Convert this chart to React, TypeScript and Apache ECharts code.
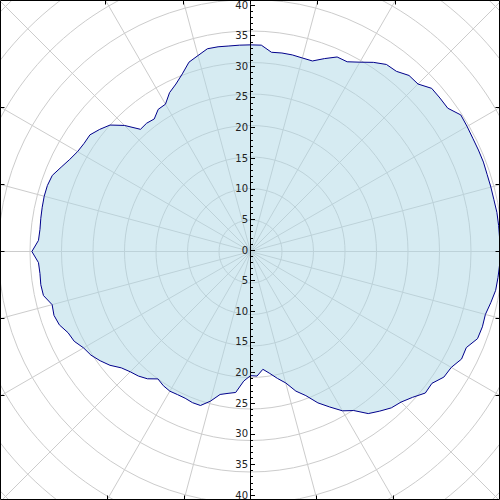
import React, { useEffect, useRef } from "react";
import * as echarts from "echarts";

// Angles (degrees, counter-clockwise from east) and radii of the filled polar outline
const ANGLES = [
  0, 3, 6, 9, 12, 15, 18, 21, 24, 27, 30, 33, 36, 39, 42, 45, 48, 51, 54, 57,
  60, 63, 66, 69, 72, 75, 78, 81, 84, 87, 90, 93, 96, 99, 102, 105, 108, 111, 114, 117,
  120, 123, 126, 129, 132, 135, 138, 141, 144, 147, 150, 153, 156, 159, 162, 165, 168, 171, 174, 177,
  180, 183, 186, 189, 192, 195, 198, 201, 204, 207, 210, 213, 216, 219, 222, 225, 228, 231, 234, 237,
  240, 243, 246, 249, 252, 255, 258, 261, 264, 267, 270, 270, 270, 273, 276, 279, 282, 285, 288, 291,
  294, 297, 300, 303, 306, 309, 312, 315, 318, 321, 324, 327, 330, 333, 336, 339, 342, 345, 348, 351,
  354, 357, 360,
];
const RADII = [
  39.6, 39.6, 39.6, 39.6, 39.5, 39.5, 39.5, 39.6, 39.6, 39.6, 39.7, 39.8, 38.7, 38.7, 38.7, 37.6, 37.6, 36.8, 36.7, 35.8,
  34.7, 33.8, 33.8, 32.8, 31.8, 31.8, 31.9, 31.9, 31.8, 32.8, 32.8, 32.8, 32.8, 32.9, 32.9, 32.2, 31.6, 30.2, 29.1, 28.3,
  27.0, 26.9, 26.0, 26.2, 26.1, 28.3, 30.0, 30.8, 31.5, 31.5, 31.7, 32.2, 32.9, 33.7, 33.9, 33.9, 33.8, 33.7, 33.6, 33.7,
  34.7, 33.7, 33.6, 33.7, 33.6, 32.6, 32.8, 32.5, 31.7, 31.4, 30.6, 30.2, 29.5, 28.7, 27.6, 27.0, 26.6, 26.0, 25.0, 25.4,
  25.6, 25.5, 25.5, 25.7, 25.7, 24.6, 23.2, 22.8, 22.5, 20.6, 19.7, 35.0, 19.7, 19.8, 18.8, 19.6, 20.6, 21.6, 23.3, 24.5,
  26.3, 27.7, 29.2, 30.1, 31.8, 32.6, 33.4, 33.8, 34.6, 35.7, 35.6, 36.6, 36.8, 37.6, 37.5, 38.6, 38.7, 38.6, 39.0, 39.4,
  39.5, 39.6, 39.6,
];

const RADIUS_MAX = 60;
const RADIUS_STEP = 5;
const ANGLE_STEP = 15;
const LABEL_MAX = 40;

export default function App() {
  const ref = useRef<HTMLDivElement>(null);

  useEffect(() => {
    if (!ref.current) return;
    const chart = echarts.init(ref.current, undefined, { renderer: "svg" });

    const W = 500;
    const H = 500;
    const cx = 250.5;
    const cy = 251.5;
    const pxPerUnit = 6.3;

    const data = ANGLES.map((a, i) => [RADII[i], a]);

    // Frame with ticks where the angular grid lines meet it
    const frame: any[] = [
      {
        type: "rect",
        shape: { x: 0.5, y: 0.5, width: W - 1, height: H - 1 },
        style: { fill: "none", stroke: "#000", lineWidth: 1 },
        silent: true,
        z: 100,
      },
    ];
    const tickLen = 4;
    for (let a = 0; a < 360; a += ANGLE_STEP) {
      if (a % 90 === 45) continue;
      const rad = (a * Math.PI) / 180;
      const c = Math.cos(rad);
      const s = Math.sin(rad);
      if (Math.abs(c) >= Math.abs(s)) {
        const x = c > 0 ? W - 0.5 : 0.5;
        const t = (x - cx) / c;
        const y = Math.floor(cy - t * s) + 0.5;
        const x2 = c > 0 ? x - tickLen : x + tickLen;
        frame.push({
          type: "line",
          shape: { x1: x, y1: y, x2, y2: y },
          style: { stroke: "#000", lineWidth: 1 },
          silent: true,
          z: 100,
        });
      } else {
        const y = s > 0 ? 0.5 : H - 0.5;
        const t = (cy - y) / s;
        const x = Math.floor(cx + t * c) + 0.5;
        const y2 = s > 0 ? y + tickLen : y - tickLen;
        frame.push({
          type: "line",
          shape: { x1: x, y1: y, x2: x, y2 },
          style: { stroke: "#000", lineWidth: 1 },
          silent: true,
          z: 100,
        });
      }
    }

    const option: any = {
      animation: false,
      polar: { center: [cx, cy], radius: RADIUS_MAX * pxPerUnit },
      angleAxis: {
        type: "value",
        min: 0,
        max: 360,
        interval: ANGLE_STEP,
        startAngle: 0,
        clockwise: false,
        axisLine: { show: false },
        axisTick: { show: false },
        axisLabel: { show: false },
        splitLine: { show: true, lineStyle: { color: "#cccccc", width: 1 } },
      },
      radiusAxis: {
        type: "value",
        min: 0,
        max: RADIUS_MAX,
        interval: RADIUS_STEP,
        axisLine: { show: false },
        axisTick: { show: false },
        axisLabel: { show: false },
        splitLine: { show: true, lineStyle: { color: "#cccccc", width: 1 } },
      },
      grid: {
        left: 250,
        top: cy - LABEL_MAX * pxPerUnit,
        width: 1,
        height: 2 * LABEL_MAX * pxPerUnit,
      },
      xAxis: { type: "value", show: false, min: 0, max: 1 },
      yAxis: {
        type: "value",
        min: -LABEL_MAX,
        max: LABEL_MAX,
        interval: RADIUS_STEP,
        z: 10,
        axisLine: { show: true, lineStyle: { color: "#000", width: 1 } },
        axisTick: { show: true, inside: true, length: 5, lineStyle: { color: "#000" } },
        minorTick: { show: true, splitNumber: 5, length: 3, lineStyle: { color: "#000" } },
        splitLine: { show: false },
        axisLabel: {
          formatter: (v: number) => String(Math.abs(v)),
          fontSize: 10,
          color: "#222",
          margin: 2,
          fontFamily: "DejaVu Sans",
          showMinLabel: true,
          showMaxLabel: true,
        },
      },
      series: [
        {
          type: "line",
          coordinateSystem: "polar",
          data,
          showSymbol: false,
          symbol: "none",
          lineStyle: { color: "#00008b", width: 1 },
          areaStyle: { color: "rgba(173,216,230,0.5)", opacity: 1 },
          z: 3,
        },
      ],
      graphic: frame,
    };

    chart.setOption(option);
    return () => chart.dispose();
  }, []);

  return (
    <div
      ref={ref}
      style={{ position: "fixed", left: 0, top: 0, width: 500, height: 500, background: "#fff" }}
    />
  );
}
